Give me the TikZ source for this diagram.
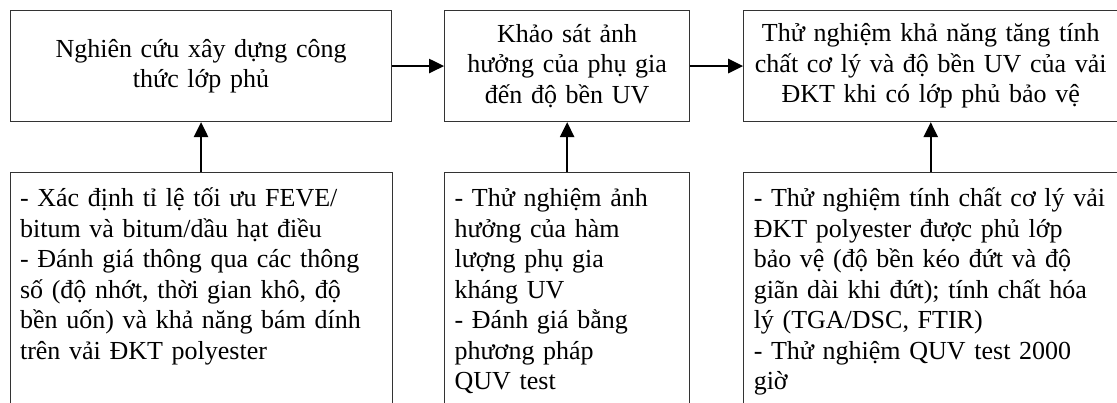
\documentclass[tikz,border=0pt]{standalone}
\usepackage{fontspec}
\setmainfont{Liberation Serif}
\usepackage{xcolor}
\definecolor{cLine}{HTML}{333333}
\definecolor{cArrow}{HTML}{000000}
\usepackage{tikz}
\usetikzlibrary{positioning,arrows.meta}
\tikzset{
  node-step/.style={draw=cLine,line width=1.1pt,rectangle,align=center,
    inner xsep=8pt,minimum height=111pt,
    font=\fontsize{26}{30.5}\selectfont},
  node-note/.style={draw=cLine,line width=1.1pt,rectangle,align=left,
    inner xsep=10pt,inner ysep=10pt,text height=24pt,text depth=260pt,
    font=\fontsize{26}{30.5}\selectfont},
  arrow/.style={-{Triangle[length=15pt,width=14pt]},line width=2.5pt,draw=cArrow},
}

\begin{document}
\begin{tikzpicture}[x=1pt,y=-1pt,node distance=50pt and 52pt]
  \clip (0,0) rectangle (1117,403);
  % hàng trên: ba bước
  \node[node-step,text width=365pt,anchor=north west] (t1) at (10,10)
    {Nghiên cứu xây dựng công\\thức lớp phủ};
  \node[node-step,text width=229pt,right=of t1] (t2)
    {Khảo sát ảnh\\hưởng của phụ gia\\đến độ bền UV};
  \node[node-step,text width=358pt,right=53pt of t2] (t3)
    {Thử nghiệm khả năng tăng tính\\chất cơ lý và độ bền UV của vải\\ĐKT khi có lớp phủ bảo vệ};
  % hàng dưới: nội dung
  \node[node-note,text width=362pt,below=of t1] (s1)
    {- Xác định tỉ lệ tối ưu FEVE/\\bitum và bitum/dầu hạt điều\\- Đánh giá thông qua các thông\\số (độ nhớt, thời gian khô, độ\\bền uốn) và khả năng bám dính\\trên vải ĐKT polyester};
  \node[node-note,text width=225pt,below=of t2] (s2)
    {- Thử nghiệm ảnh\\hưởng của hàm\\lượng phụ gia\\kháng UV\\- Đánh giá bằng\\phương pháp\\QUV test};
  \node[node-note,text width=354pt,below=of t3] (s3)
    {- Thử nghiệm tính chất cơ lý vải\\ĐKT polyester được phủ lớp\\bảo vệ (độ bền kéo đứt và độ\\giãn dài khi đứt); tính chất hóa\\lý (TGA/DSC, FTIR)\\- Thử nghiệm QUV test 2000\\giờ};
  \draw[arrow] (t1) -- (t2);
  \draw[arrow] (t2) -- (t3);
  \draw[arrow] (s1) -- (t1);
  \draw[arrow] (s2) -- (t2);
  \draw[arrow] (s3) -- (t3);
\end{tikzpicture}
\end{document}
